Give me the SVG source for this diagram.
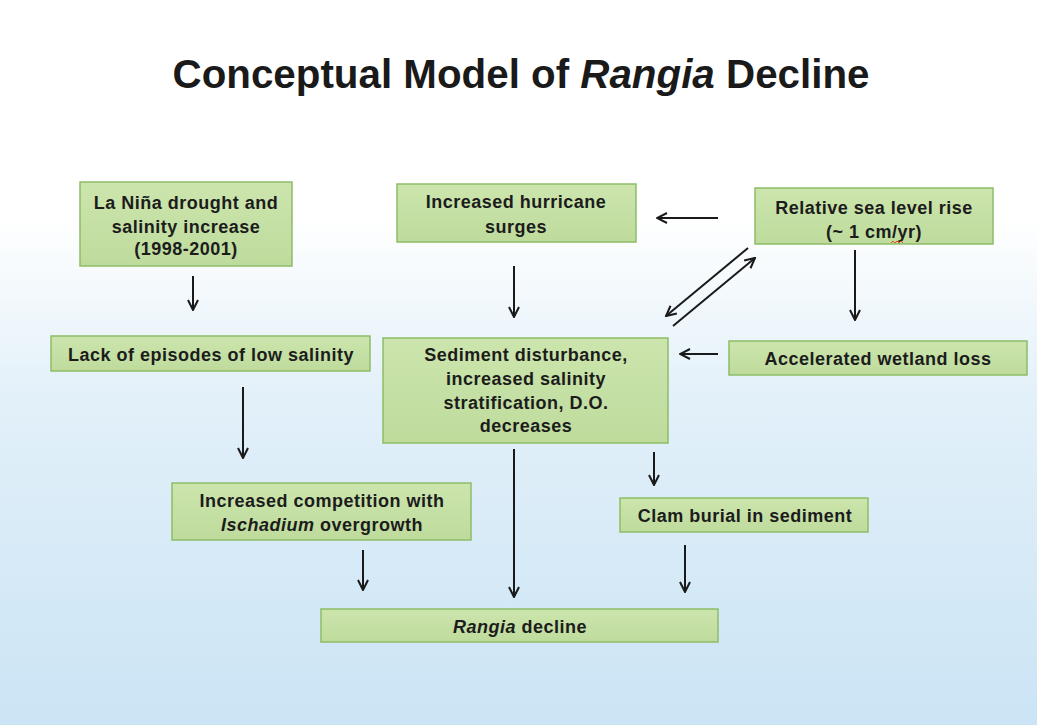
<svg xmlns="http://www.w3.org/2000/svg" width="1037" height="725" viewBox="0 0 1037 725">
<defs>
<linearGradient id="bg" x1="0" y1="0" x2="0" y2="1">
<stop offset="0" stop-color="#ffffff"/>
<stop offset="0.3" stop-color="#ffffff"/>
<stop offset="0.55" stop-color="#e2f0f9"/>
<stop offset="1" stop-color="#cbe4f5"/>
</linearGradient>
<linearGradient id="box" x1="0" y1="0" x2="0" y2="1">
<stop offset="0" stop-color="#cce5ad"/>
<stop offset="1" stop-color="#bedb9c"/>
</linearGradient>
<marker id="ah" viewBox="0 0 12 12" refX="11" refY="6" markerWidth="12" markerHeight="12" markerUnits="userSpaceOnUse" orient="auto">
<path d="M1,1 L11,6 L1,11" fill="none" stroke="#1a1a1a" stroke-width="2"/>
</marker>
<style>
.node rect{fill:url(#box);stroke:#8dbd67;stroke-width:1.5}
.node text{font-family:"Liberation Sans",Arial,sans-serif;font-weight:bold;font-size:18px;letter-spacing:0.5px;fill:#1c1c1c;text-anchor:middle}
.conn line{stroke:#1a1a1a;stroke-width:2;marker-end:url(#ah)}
.title{font-family:"Liberation Sans",Arial,sans-serif;font-weight:bold;font-size:41px;fill:#1a1a1a;text-anchor:middle}
</style>
</defs>
<rect x="0" y="0" width="1037" height="725" fill="url(#bg)"/>
<text class="title" x="521" y="88" textLength="697" lengthAdjust="spacingAndGlyphs">Conceptual Model of <tspan font-style="italic">Rangia</tspan> Decline</text>

<g id="n-lanina" class="node">
<rect x="80" y="182" width="212" height="84"/>
<text x="186" y="209">La Niña drought and</text>
<text x="186" y="233">salinity increase</text>
<text x="186" y="255">(1998-2001)</text>
</g>
<g id="n-hurricane" class="node">
<rect x="397" y="184" width="239" height="58"/>
<text x="516" y="208">Increased hurricane</text>
<text x="516" y="233">surges</text>
</g>
<g id="n-sealevel" class="node">
<rect x="755" y="188" width="238" height="56"/>
<text x="874" y="214">Relative sea level rise</text>
<text x="874" y="238">(~ 1 cm/yr)</text>
<path d="M891,243 l2,-2 l2,2 l2,-2 l2,2 l2,-2 l2,2" fill="none" stroke="#e0502a" stroke-width="1"/>
</g>
<g id="n-lack" class="node">
<rect x="51" y="336" width="319" height="35"/>
<text x="211" y="361">Lack of episodes of low salinity</text>
</g>
<g id="n-sediment" class="node">
<rect x="383" y="338" width="285" height="105"/>
<text x="526" y="361">Sediment disturbance,</text>
<text x="526" y="385">increased salinity</text>
<text x="526" y="409">stratification, D.O.</text>
<text x="526" y="432">decreases</text>
</g>
<g id="n-wetland" class="node">
<rect x="729" y="341" width="298" height="34"/>
<text x="878" y="365">Accelerated wetland loss</text>
</g>
<g id="n-competition" class="node">
<rect x="172" y="483" width="299" height="57"/>
<text x="322" y="507">Increased competition with</text>
<text x="322" y="531"><tspan font-style="italic">Ischadium</tspan> overgrowth</text>
</g>
<g id="n-clam" class="node">
<rect x="620" y="498" width="248" height="34"/>
<text x="745" y="522">Clam burial in sediment</text>
</g>
<g id="n-rangia" class="node">
<rect x="321" y="609" width="397" height="33"/>
<text x="520" y="633"><tspan font-style="italic">Rangia</tspan> decline</text>
</g>

<g id="connectors" class="conn">
<line x1="193" y1="276" x2="193" y2="310"/>
<line x1="514" y1="266" x2="514" y2="317"/>
<line x1="855" y1="250" x2="855" y2="320"/>
<line x1="718" y1="218" x2="657" y2="218"/>
<line x1="718" y1="354" x2="680" y2="354"/>
<line x1="748" y1="248" x2="666" y2="316"/>
<line x1="673" y1="326" x2="755" y2="258"/>
<line x1="243" y1="387" x2="243" y2="458"/>
<line x1="514" y1="449" x2="514" y2="597"/>
<line x1="654" y1="452" x2="654" y2="485"/>
<line x1="363" y1="550" x2="363" y2="590"/>
<line x1="685" y1="545" x2="685" y2="592"/>
</g>
</svg>
